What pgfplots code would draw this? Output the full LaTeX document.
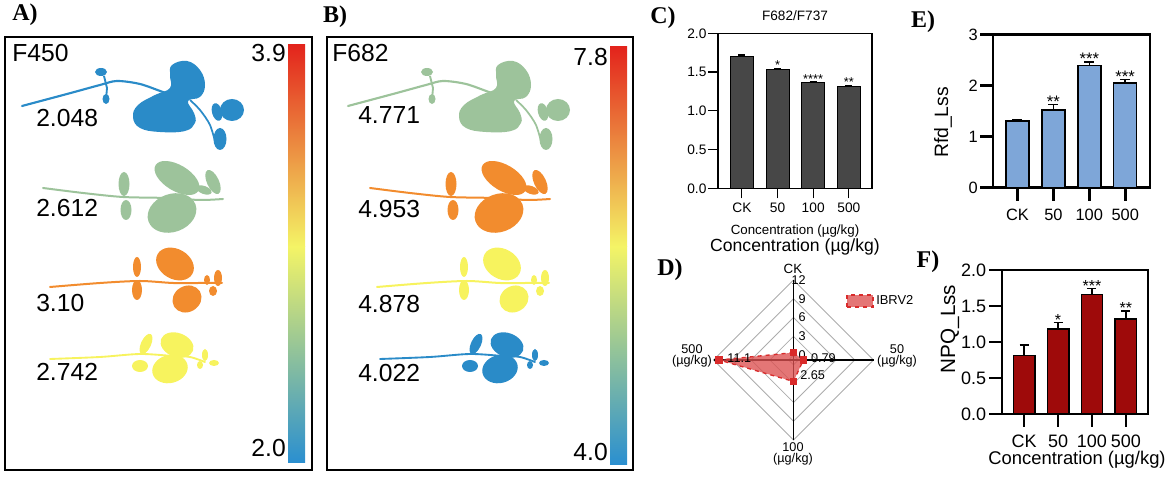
\documentclass[border=0pt]{standalone}
\usepackage{fontspec}
\setmainfont{Liberation Sans}
\newfontfamily\pserif{Liberation Serif}
\usepackage{pgfplots}
\usepackage{pgfplotstable}
\pgfplotsset{compat=1.18}
\newdimen\px \px=0.75pt
\newcommand\fs[1]{\fontsize{#1}{#1}\selectfont}

\definecolor{pblue}{HTML}{2A8BC8}
\definecolor{pgreen}{HTML}{9DC39B}
\definecolor{porange}{HTML}{F28C2E}
\definecolor{pyellow}{HTML}{F7F35E}
\definecolor{cgray}{HTML}{474747}
\definecolor{eblue}{HTML}{7EA6D8}
\definecolor{fred}{HTML}{9E0A0A}
\definecolor{radred}{HTML}{D92B2B}
\definecolor{radfill}{HTML}{DC5050}
\definecolor{cbred}{HTML}{E3241C}
\definecolor{cborange}{HTML}{F59038}
\definecolor{cbyellow}{HTML}{F4F466}
\definecolor{cbgreen}{HTML}{A2C690}
\definecolor{cbblue}{HTML}{2A8FD0}

\pgfplotstableread{
x y e s
0 1.70 0.02 {}
1 1.53 0.02 *
2 1.36 0.02 ****
3 1.31 0.02 **
}\dataC
\pgfplotstableread{
x y e s
0 1.31 0.02 {}
1 1.52 0.11 **
2 2.40 0.06 ***
3 2.05 0.07 ***
}\dataE
\pgfplotstableread{
x y e s
0 0.81 0.15 {}
1 1.18 0.09 *
2 1.66 0.08 ***
3 1.32 0.11 **
}\dataF
\pgfplotstableread{
ang v
90 0.40
0 0.79
270 2.65
180 11.1
90 0.40
}\radar

% plant shapes (pixel coordinates, y downward)
\newcommand{\plantOne}[2]{%
\begin{scope}[shift={(#2,0)}]
 \draw[#1, line width=1.6pt, line cap=round] plot[smooth] coordinates {(22,106) (67,94) (100,85) (117,81) (140,84) (163,92) (180,97)};
 \draw[#1, line width=1.4pt] (104,76) -- (107,88) -- (106,100);
 \fill[#1] (101,72) ellipse [x radius=6, y radius=4];
 \fill[#1] (106,99) ellipse [x radius=3.5, y radius=5];
 \fill[#1] plot[smooth cycle, tension=0.7] coordinates {(172,65) (187,61) (200,70) (205,85) (200,97) (188,101) (194,113) (195,123) (185,131) (160,132) (140,128) (133,117) (138,105) (155,95) (170,88) (170,75)};
 \draw[#1, line width=1.3pt] plot[smooth] coordinates {(190,100) (200,110) (210,125) (216,145)};
 \fill[#1] (232,110) ellipse [x radius=12, y radius=11];
 \fill[#1, rotate around={-15:(217,112)}] (217,112) ellipse [x radius=5, y radius=9];
 \fill[#1] (220,139) ellipse [x radius=6.5, y radius=11];
\end{scope}}
\newcommand{\plantTwo}[2]{%
\begin{scope}[shift={(#2,0)}]
 \draw[#1, line width=1.5pt, line cap=round] plot[smooth] coordinates {(43,188) (83,193) (123,197) (167,198) (200,200) (223,199)};
 \fill[#1] (124,184) ellipse [x radius=5.5, y radius=12];
 \fill[#1] (126,210) ellipse [x radius=5.5, y radius=10];
 \fill[#1, rotate around={31:(177,178)}] (177,178) ellipse [x radius=25, y radius=13];
 \fill[#1, rotate around={-20:(172,213)}] (172,213) ellipse [x radius=25, y radius=19];
 \fill[#1, rotate around={-25:(213,182)}] (213,182) ellipse [x radius=6, y radius=13];
 \fill[#1, rotate around={20:(204,190)}] (204,190) ellipse [x radius=8, y radius=4];
\end{scope}}
\newcommand{\plantThree}[2]{%
\begin{scope}[shift={(#2,0)}]
 \draw[#1, line width=1.5pt, line cap=round] plot[smooth] coordinates {(50,287) (100,283) (140,281) (173,283) (200,283) (222,283)};
 \fill[#1] (137,267) ellipse [x radius=4, y radius=10];
 \fill[#1] (137,290) ellipse [x radius=5, y radius=10];
 \fill[#1, rotate around={30:(175,264)}] (175,264) ellipse [x radius=20, y radius=15];
 \fill[#1, rotate around={-30:(187,299)}] (187,299) ellipse [x radius=15, y radius=13];
 \fill[#1] (218,278) ellipse [x radius=4, y radius=8];
 \fill[#1] (213,291) ellipse [x radius=4, y radius=5];
 \fill[#1] (207,280) ellipse [x radius=3, y radius=5];
\end{scope}}
\newcommand{\plantFour}[2]{%
\begin{scope}[shift={(#2,0)}]
 \draw[#1, line width=1.4pt, line cap=round] plot[smooth] coordinates {(50,359) (100,357) (140,354) (173,356) (190,357) (205,362)};
 \fill[#1, rotate around={25:(146,344)}] (146,344) ellipse [x radius=5, y radius=11];
 \fill[#1] (140,366) ellipse [x radius=8, y radius=6];
 \fill[#1, rotate around={20:(177,345)}] (177,345) ellipse [x radius=17, y radius=12];
 \fill[#1, rotate around={-15:(170,369)}] (170,369) ellipse [x radius=18, y radius=14];
 \fill[#1] (205,355) ellipse [x radius=3, y radius=6];
 \fill[#1] (214,363) ellipse [x radius=5, y radius=3];
 \fill[#1] (200,365) ellipse [x radius=3, y radius=4];
\end{scope}}

\begin{document}
\begin{tikzpicture}[x=0.75pt, y=0.75pt]
\useasboundingbox (0,0) rectangle (1167,484);

% ---------- Panels A and B ----------
\draw[line width=1.1pt] (5,14) rectangle (312,447);
\draw[line width=1.1pt] (327,14) rectangle (633,447);
\shade[top color=cbred, middle color=cborange, bottom color=cbyellow] (288,237) rectangle (305,439);
\shade[top color=cbyellow, middle color=cbgreen, bottom color=cbblue] (288,21) rectangle (305,237.5);
\shade[top color=cbred, middle color=cborange, bottom color=cbyellow] (610,237) rectangle (627,437);
\shade[top color=cbyellow, middle color=cbgreen, bottom color=cbblue] (610,19) rectangle (627,237.5);

\begin{scope}[shift={(0,484)}, yscale=-1]
 \plantOne{pblue}{0}
 \plantTwo{pgreen}{0}
 \plantThree{porange}{0}
 \plantFour{pyellow}{0}
 \plantOne{pgreen}{326}
 \plantTwo{porange}{327}
 \plantThree{pyellow}{327}
 \plantFour{pblue}{330}
\end{scope}

\begin{scope}[every node/.style={inner sep=0pt, font=\fs{18.5}}]
 \node[anchor=west] at (12,431) {F450};
 \node[anchor=east] at (286,431) {3.9};
 \node[anchor=east] at (286,36) {2.0};
 \node[anchor=west] at (36,366) {2.048};
 \node[anchor=west] at (36,276) {2.612};
 \node[anchor=west] at (36,181) {3.10};
 \node[anchor=west] at (36,112) {2.742};
 \node[anchor=west] at (332,431) {F682};
 \node[anchor=east] at (608,427) {7.8};
 \node[anchor=east] at (608,32) {4.0};
 \node[anchor=west] at (358,369) {4.771};
 \node[anchor=west] at (358,275) {4.953};
 \node[anchor=west] at (358,180) {4.878};
 \node[anchor=west] at (358,111) {4.022};
\end{scope}

% panel letters
\begin{scope}[every node/.style={font=\pserif\bfseries\fs{18}}]
 \node at (25,469) {A)};
 \node at (335,467) {B)};
 \node at (663,466) {C)};
 \node at (670,214) {D)};
 \node at (923,462) {E)};
 \node at (928,222) {F)};
\end{scope}

% ---------- Panel C ----------
\begin{axis}[
 at={(718\px,295.7\px)}, anchor=south west, scale only axis,
 width=154\px, height=155\px,
 xmin=-0.67, xmax=3.65, ymin=0, ymax=2,
 xtick={0,1,2,3}, xticklabels={CK,50,100,500},
 ytick={0,0.5,1,1.5,2},
 tick align=outside, tick pos=left, major tick length=10\px,
 every tick/.style={black, line width=0.9pt},
 axis line style={line width=0.9pt},
 /pgf/number format/assume math mode=true,
 yticklabel style={/pgf/number format/.cd, fixed, fixed zerofill, precision=1, /tikz/.cd, inner xsep=1pt},
 ticklabel style={font=\fs{10.3}},
 clip=false]
\addplot[ybar, bar width=23\px, fill=cgray, draw=black, line width=0.8pt,
 error bars/.cd, y dir=plus, y explicit,
 error bar style={black, line width=0.8pt},
 error mark options={rotate=90, black, mark size=3.5\px, line width=0.8pt}]
 table[x=x, y=y, y error=e] {\dataC};
\addplot[draw=none, mark=none, nodes near coords={\pgfplotspointmeta}, point meta=explicit symbolic,
 every node near coord/.append style={font=\fs{9.6}, anchor=south, inner sep=0pt, yshift=-2\px}]
 table[x=x, y expr=\thisrow{y}+\thisrow{e}, meta=s] {\dataC};
\node[font=\fs{10.2}] at (axis description cs:0.5,1) [yshift=18\px] {F682/F737};
\node[font=\fs{10}] at (axis description cs:0.5,0) [yshift=-43\px] {Concentration (µg/kg)};
\node[font=\fs{13.2}] at (axis description cs:0.5,0) [yshift=-59\px] {Concentration (µg/kg)};
\end{axis}

% ---------- Panel E ----------
\begin{axis}[
 at={(993\px,296.3\px)}, anchor=south west, scale only axis,
 width=157\px, height=153\px,
 xmin=-0.68, xmax=3.69, ymin=0, ymax=3,
 xtick={0,1,2,3}, xticklabels={CK,50,100,500}, ytick={0,1,2,3},
 tick align=outside, tick pos=left, major tick length=13\px,
 every tick/.style={black, line width=2pt},
 axis line style={line width=2pt},
 /pgf/number format/assume math mode=true,
 ticklabel style={font=\fs{12.3}},
 xticklabel style={yshift=-4\px},
 yticklabel style={inner xsep=1.5pt},
 clip=false]
\addplot[ybar, bar width=23\px, fill=eblue, draw=black, line width=1.1pt,
 error bars/.cd, y dir=plus, y explicit,
 error bar style={black, line width=1.1pt},
 error mark options={rotate=90, black, mark size=5\px, line width=1.1pt}]
 table[x=x, y=y, y error=e] {\dataE};
\addplot[draw=none, mark=none, nodes near coords={\pgfplotspointmeta}, point meta=explicit symbolic,
 every node near coord/.append style={font=\fs{12.5}, anchor=south, inner sep=0pt, yshift=-3\px}]
 table[x=x, y expr=\thisrow{y}+\thisrow{e}, meta=s] {\dataE};
\end{axis}
\node[rotate=90, font=\fs{14.5}] at (943,361.5) {Rfd\_Lss};

% ---------- Panel F ----------
\begin{axis}[
 at={(1002\px,70\px)}, anchor=south west, scale only axis,
 width=146\px, height=144\px,
 xmin=-0.65, xmax=3.65, ymin=0, ymax=2,
 xtick={0,1,2,3}, xticklabels={CK,50,100,500},
 ytick={0,0.5,1,1.5,2},
 tick align=outside, tick pos=left, major tick length=13\px,
 every tick/.style={black, line width=2pt},
 axis line style={line width=2pt},
 /pgf/number format/assume math mode=true,
 yticklabel style={/pgf/number format/.cd, fixed, fixed zerofill, precision=1, /tikz/.cd, inner xsep=2pt},
 ticklabel style={font=\fs{13.5}},
 xticklabel style={yshift=-3\px},
 clip=false]
\addplot[ybar, bar width=21.5\px, fill=fred, draw=black, line width=1.1pt,
 error bars/.cd, y dir=plus, y explicit,
 error bar style={black, line width=1.1pt},
 error mark options={rotate=90, black, mark size=4.5\px, line width=1.1pt}]
 table[x=x, y=y, y error=e] {\dataF};
\addplot[draw=none, mark=none, nodes near coords={\pgfplotspointmeta}, point meta=explicit symbolic,
 every node near coord/.append style={font=\fs{12}, anchor=south, inner sep=0pt, yshift=-3\px}]
 table[x=x, y expr=\thisrow{y}+\thisrow{e}, meta=s] {\dataF};
\end{axis}
\node[rotate=90, font=\fs{15.5}] at (950,155) {NPQ\_Lss};
\node[font=\fs{13.8}] at (1077,24) {Concentration (µg/kg)};

% ---------- Panel D (radar) ----------
\begin{axis}[
 at={(713.5\px,44\px)}, anchor=south west, scale only axis,
 width=160\px, height=160\px,
 xmin=-12.78, xmax=12.78, ymin=-12.78, ymax=12.78,
 hide axis, clip=false,
 legend style={at={(0.828,0.869)}, anchor=west, draw=none, fill=none,
   font=\fs{9.7}, inner sep=0pt}]
\addplot[forget plot, gray!65, line width=0.6pt] coordinates {(0,12.78) (12.78,0) (0,-12.78) (-12.78,0) (0,12.78)};
\addplot[forget plot, gray!65, line width=0.6pt] coordinates {(0,9.78) (9.78,0) (0,-9.78) (-9.78,0) (0,9.78)};
\addplot[forget plot, gray!65, line width=0.6pt] coordinates {(0,6.78) (6.78,0) (0,-6.78) (-6.78,0) (0,6.78)};
\addplot[forget plot, gray!65, line width=0.6pt] coordinates {(0,3.78) (3.78,0) (0,-3.78) (-3.78,0) (0,3.78)};
\addplot[forget plot, gray!65, line width=0.6pt] coordinates {(0,0.78) (0.78,0) (0,-0.78) (-0.78,0) (0,0.78)};
\addplot[forget plot, black, line width=1pt] coordinates {(0,12.78) (0,-12.78)};
\addplot[forget plot, black, line width=1pt] coordinates {(-12.78,0) (12.78,0)};
\addplot[draw=radred, dashed, line width=1pt, fill=radfill, fill opacity=0.78,
 mark=square*, mark size=2.3pt, mark options={solid, fill=radred, draw=radred, fill opacity=1},
 legend image code/.code={\draw[draw=radred, dashed, line width=1pt, fill=radfill, fill opacity=0.78] (0pt,-4.5pt) rectangle (19.5pt,4.5pt);}]
 table[x expr={cos(\thisrow{ang})*(\thisrow{v}+0.78)}, y expr={sin(\thisrow{ang})*(\thisrow{v}+0.78)}] {\radar};
\addlegendentry{IBRV2}
\node[anchor=east, inner sep=0pt, font=\fs{9.5}] at (axis cs:0,12.78) [xshift=12.5\px] {12};
\node[anchor=east, inner sep=0pt, font=\fs{9.5}] at (axis cs:0,9.78) [xshift=12.5\px] {9};
\node[anchor=east, inner sep=0pt, font=\fs{9.5}] at (axis cs:0,6.78) [xshift=12.5\px] {6};
\node[anchor=east, inner sep=0pt, font=\fs{9.5}] at (axis cs:0,3.78) [xshift=12.5\px] {3};
\node[anchor=east, inner sep=0pt, font=\fs{9.5}] at (axis cs:0,0.78) [xshift=12.5\px] {0};
\node[anchor=west, inner sep=0pt, font=\fs{9.5}] at (axis cs:-11.88,0) [xshift=8\px, yshift=2.3\px] {11.1};
\node[anchor=west, inner sep=0pt, font=\fs{9.5}] at (axis cs:1.57,0) [xshift=7.5\px, yshift=2.3\px] {0.79};
\node[anchor=west, inner sep=0pt, font=\fs{9.5}] at (axis cs:0,-3.43) [xshift=6.5\px, yshift=6\px] {2.65};
\end{axis}
\node[font=\fs{10}] at (793,215) {CK};
\node[font=\fs{9.5}, align=center, inner sep=0pt] at (897,128) {50\\[-1pt](µg/kg)};
\node[font=\fs{9.5}, align=center, inner sep=0pt] at (692,128) {500\\[-1pt](µg/kg)};
\node[font=\fs{9.5}, align=center, inner sep=0pt] at (793,30) {100\\[-1pt](µg/kg)};

\end{tikzpicture}
\end{document}
